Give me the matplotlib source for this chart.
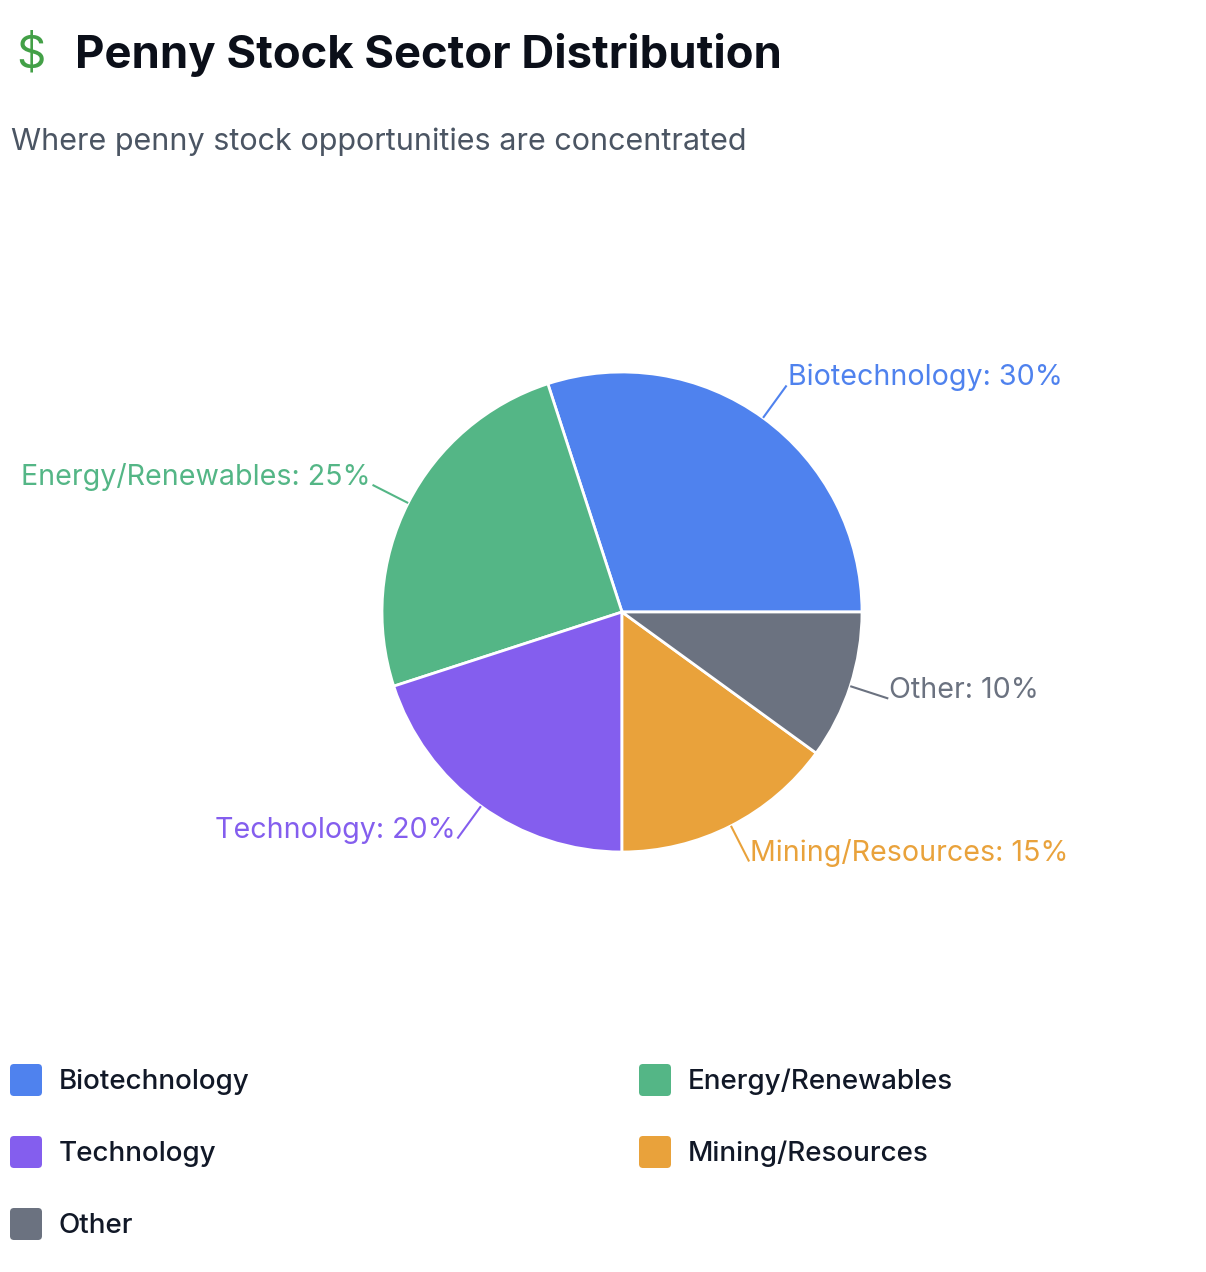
import numpy as np
import matplotlib
matplotlib.use("Agg")
import matplotlib.pyplot as plt
from matplotlib.patches import FancyBboxPatch

plt.rcParams['font.family'] = ['Inter', 'DejaVu Sans']

categories = ["Biotechnology", "Energy/Renewables", "Technology", "Mining/Resources", "Other"]
values = [30, 25, 20, 15, 10]
colors = ["#4F82EE", "#54B686", "#845EEE", "#E9A23B", "#6B7280"]

W, H = 1206, 1272
fig = plt.figure(figsize=(W / 100, H / 100), dpi=100)
ax = fig.add_axes([0, 0, 1, 1])

cx, cy, R = 622, 612, 240
wedges, _ = ax.pie(values, colors=colors, startangle=0, counterclock=False,
                   center=(cx, cy), radius=R, frame=True,
                   wedgeprops=dict(edgecolor='white', linewidth=2))
ax.set_xlim(0, W)
ax.set_ylim(H, 0)
ax.set_aspect('equal')
ax.axis('off')

for w, cat, val, col in zip(wedges, categories, values, colors):
    mid = np.deg2rad((w.theta1 + w.theta2) / 2)
    c, s = np.cos(mid), np.sin(mid)
    x0, y0 = cx + R * c, cy + R * s
    x1, y1 = cx + (R + 40) * c, cy + (R + 40) * s
    ax.plot([x0, x1], [y0, y1], color=col, lw=1.5, solid_capstyle='butt')
    ha = 'left' if c >= 0 else 'right'
    tx = x1 + (1 if c >= 0 else -2)
    ax.text(tx, y1 - 8, f"{cat}: {val}%", color=col, fontsize=20.6,
            ha=ha, va='center')

# Title
ax.text(16, 55, "$", color="#43A047", fontsize=33, ha='left', va='center')
ax.text(75, 55, "Penny Stock Sector Distribution", color="#0B0F19",
        fontsize=32.7, fontweight='bold', ha='left', va='center')
ax.text(11, 142, "Where penny stock opportunities are concentrated",
        color="#4B5563", fontsize=22, ha='left', va='center')

# Legend
col_x = [10, 639]
row_y = [1080, 1152, 1224]
for i, (cat, col) in enumerate(zip(categories, colors)):
    lx = col_x[i % 2]
    ly = row_y[i // 2]
    box = FancyBboxPatch((lx + 4, ly - 12), 24, 24,
                         boxstyle="round,pad=4", facecolor=col, edgecolor='none')
    ax.add_patch(box)
    ax.text(lx + 49, ly + 2, cat, color="#111827", fontsize=20,
            fontweight='medium', ha='left', va='center')

fig.savefig("out.png", dpi=100, facecolor='white')
